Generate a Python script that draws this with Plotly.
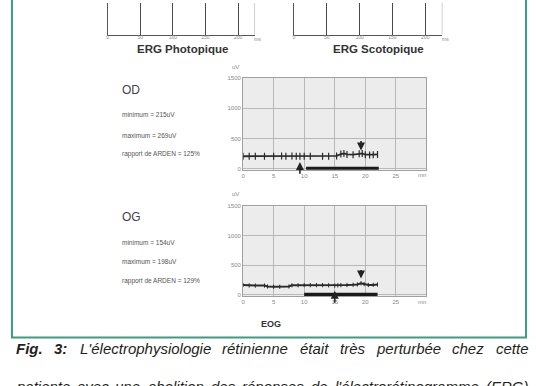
import plotly.graph_objects as go

# ---------------- data ----------------
erg_ticks = [0, 50, 100, 150, 200]
erg_titles = ["ERG Photopique", "ERG Scotopique"]

eog_x_ticks = [0, 5, 10, 15, 20, 25]
eog_y_ticks = [0, 500, 1000, 1500]

od_time = [0, 1, 2, 3.5, 5, 6.3, 7, 8, 8.7, 9.3, 10, 11, 13, 14, 15.3, 16, 16.5, 17, 18, 19, 19.5, 20, 20.7, 21.3, 22]
od_uv = [205, 205, 205, 205, 205, 208, 205, 208, 203, 205, 205, 205, 205, 205, 210, 240, 250, 235, 230, 245, 250, 230, 225, 230, 235]
od_light_on = [10.3, 22.2]
od_arrow_down = (19.3, 300, 480)   # x, tip, tail
od_arrow_up = (9.3, 110, -110)
od_stats = ["minimum = 215uV", "maximum = 269uV", "rapport de ARDEN = 125%"]

og_time = [0, 1, 2, 3.5, 4, 5, 6, 7.5, 8, 9, 10, 11, 12, 13, 14, 15, 15.5, 16, 17, 18, 18.7, 19.3, 19.8, 20.5, 21.3, 22]
og_uv = [160, 152, 150, 150, 135, 130, 130, 135, 155, 155, 158, 158, 158, 158, 155, 150, 155, 158, 160, 163, 170, 190, 175, 160, 162, 168]
og_light_on = [10.0, 22.0]
og_arrow_down = (19.3, 270, 440)
og_arrow_up = (15.0, 60, -170)
og_stats = ["minimum = 154uV", "maximum = 198uV", "rapport de ARDEN = 129%"]

caption1 = ["Fig.", "3:", "L'électrophysiologie", "rétinienne", "était", "très",
            "perturbée", "chez", "cette"]
caption1_bold = [True, True, False, False, False, False, False, False, False]
caption2 = ["patiente", "avec", "une", "abolition", "des", "réponses", "de", "l'électrorétinogramme", "(ERG)"]

# ---------------- layout helpers ----------------
W, H = 536, 386
def px(x):
    return x / W
def py(y):
    return 1 - y / H

FONT = "Liberation Sans, Arial, sans-serif"

# approximate Helvetica/Arial advance widths (per em) for justification
_w = {"F": .611, "i": .222, "g": .556, ".": .278, "3": .556, ":": .278, "L": .556, "'": .191,
      "l": .222, "c": .5, "t": .278, "r": .333, "y": .5, "s": .5, "z": .5, "v": .5, "(": .333,
      ")": .333, "E": .667, "R": .722, "G": .778, "m": .833, "f": .278, "ç": .5, "k": .5, "j": .222}
_wb = {"F": .611, "i": .278, "g": .611, ".": .278, "3": .556, ":": .333}
def word_width(word, size, bold=False):
    tot = 0
    for ch in word:
        if bold and ch in _wb:
            tot += _wb[ch]
        else:
            tot += _w.get(ch, .556)
    return tot * size

def justify(words, size, left, right, bolds=None):
    bolds = bolds or [False] * len(words)
    widths = [word_width(w, size, b) for w, b in zip(words, bolds)]
    gap = (right - left - sum(widths)) / (len(words) - 1)
    xs, x = [], left
    for wd in widths:
        xs.append(x)
        x += wd + gap
    return xs

fig = go.Figure()

# ERG (cut off) subplots - empty traces to instantiate axes
fig.add_trace(go.Scatter(x=[], y=[], xaxis="x", yaxis="y", showlegend=False))
fig.add_trace(go.Scatter(x=[], y=[], xaxis="x2", yaxis="y2", showlegend=False))

# EOG traces
line_col = "#2a2a2a"
fig.add_trace(go.Scatter(x=od_time, y=od_uv, xaxis="x3", yaxis="y3", mode="lines+markers",
                         line=dict(color=line_col, width=1.8),
                         marker=dict(symbol="line-ns-open", size=5, line=dict(color=line_col, width=1.2)),
                         showlegend=False))
fig.add_trace(go.Scatter(x=od_light_on, y=[0, 0], xaxis="x3", yaxis="y3", mode="lines",
                         line=dict(color="#1a1a1a", width=3.5), showlegend=False))
fig.add_trace(go.Scatter(x=og_time, y=og_uv, xaxis="x4", yaxis="y4", mode="lines+markers",
                         line=dict(color=line_col, width=2),
                         marker=dict(symbol="line-ns-open", size=3, line=dict(color=line_col, width=1)),
                         showlegend=False))
fig.add_trace(go.Scatter(x=og_light_on, y=[0, 0], xaxis="x4", yaxis="y4", mode="lines",
                         line=dict(color="#1a1a1a", width=3.5), showlegend=False))

erg_axis = dict(tickvals=erg_ticks, showgrid=True, gridcolor="#4a4a4a", gridwidth=1,
                showline=True, linecolor="#555555", ticks="", zeroline=False, ticklabelstandoff=-3,
                tickfont=dict(size=5, color="#888888", family=FONT), range=[0, 226])
erg_y = dict(showgrid=False, showticklabels=False, showline=True, linecolor="#555555",
             zeroline=False, range=[0, 1], domain=[py(32), 1])

eog_x = dict(tickvals=eog_x_ticks, showgrid=True, gridcolor="#b8b8b8", gridwidth=1,
             showline=True, mirror=True, linecolor="#a0a0a0", ticks="", zeroline=False,
             tickfont=dict(size=6, color="#888888", family=FONT), range=[0, 30],
             domain=[px(242), px(426)])
eog_y = dict(tickvals=eog_y_ticks, showgrid=True, gridcolor="#b8b8b8", gridwidth=1,
             showline=True, mirror=True, linecolor="#a0a0a0", ticks="", zeroline=False,
             tickfont=dict(size=6, color="#888888", family=FONT))

shapes = [
    dict(type="rect", xref="paper", yref="paper", x0=px(10), x1=px(526), y0=py(339), y1=1.05,
         line=dict(color="#3a9c80", width=2), fillcolor="rgba(0,0,0,0)", layer="below"),
    dict(type="line", xref="x", yref="y domain", x0=226, x1=226, y0=0, y1=1,
         line=dict(color="#999999", width=1)),
    dict(type="line", xref="x2", yref="y2 domain", x0=226, x1=226, y0=0, y1=1,
         line=dict(color="#999999", width=1)),
    dict(type="rect", xref="x3 domain", yref="y3 domain", x0=0, x1=1, y0=0, y1=1,
         fillcolor="#ececec", line=dict(width=0), layer="below"),
    dict(type="rect", xref="x4 domain", yref="y4 domain", x0=0, x1=1, y0=0, y1=1,
         fillcolor="#ececec", line=dict(width=0), layer="below"),
]

ann = []
def text_at(text, x, y, size, color, xanchor="center"):
    ann.append(dict(text=text, x=px(x), y=py(y), xref="paper", yref="paper",
                    xanchor=xanchor, yanchor="middle", showarrow=False,
                    font=dict(size=size, color=color, family=FONT)))

# ERG titles and units
for title, cx in zip(erg_titles, [181, 378]):
    text_at("<b>%s</b>" % title, cx, 47, 11.5, "#333333")
for mx in [256, 445]:
    text_at("ms", mx, 36, 5, "#888888")

# EOG labels
for name, stats, ys, uvy, mny in [("OD", od_stats, (88, 113, 134, 153), 65, 174),
                                  ("OG", og_stats, (217, 243, 262, 282), 194, 303)]:
    text_at(name, 118, ys[0], 12, "#444444", xanchor="left")
    for s, yy in zip(stats, ys[1:]):
        text_at(s, 118, yy, 6.5, "#555555", xanchor="left")
    text_at("uV", 234, uvy, 6, "#888888")
    text_at("mn", 422, mny, 6, "#888888")

# arrows
for (xa, ya), (ax_, tip, tail) in [(("x3", "y3"), od_arrow_down), (("x3", "y3"), od_arrow_up),
                                    (("x4", "y4"), og_arrow_down), (("x4", "y4"), og_arrow_up)]:
    ann.append(dict(x=ax_, y=tip, ax=ax_, ay=tail, xref=xa, yref=ya, axref=xa, ayref=ya, text="",
                    showarrow=True, arrowhead=2, arrowsize=1, arrowwidth=1.6, arrowcolor="#222222"))

text_at("<b>EOG</b>", 270, 325, 9, "#333333")

# caption (justified word by word); second line is cut by the bottom edge as in the source
CAP = 15
for w, b, xx in zip(caption1, caption1_bold, justify(caption1, CAP, 12, 526, caption1_bold)):
    t = "<b><i>%s</i></b>" % w if b else "<i>%s</i>" % w
    text_at(t, xx, 350, CAP, "#231f20", xanchor="left")
for w, xx in zip(caption2, justify(caption2, CAP, 12, 526)):
    text_at("<i>%s</i>" % w, xx, 389, CAP, "#231f20", xanchor="left")

fig.update_layout(
    width=W, height=H, autosize=False, margin=dict(l=0, r=0, t=0, b=0),
    paper_bgcolor="white", plot_bgcolor="rgba(0,0,0,0)",
    xaxis=dict(erg_axis, domain=[px(106), px(254)], anchor="y"),
    yaxis=dict(erg_y, anchor="x"),
    xaxis2=dict(erg_axis, domain=[px(293), px(442)], anchor="y2"),
    yaxis2=dict(erg_y, anchor="x2"),
    xaxis3=dict(eog_x, anchor="y3"),
    yaxis3=dict(eog_y, anchor="x3", range=[-20, 1500], domain=[py(169), py(76)]),
    xaxis4=dict(eog_x, anchor="y4"),
    yaxis4=dict(eog_y, anchor="x4", range=[-30, 1500], domain=[py(297), py(206)]),
    shapes=shapes, annotations=ann, showlegend=False,
)

fig.write_html("out.html", config={"displayModeBar": False},
               post_script="document.body.style.margin='0px';document.body.style.overflow='hidden';")
